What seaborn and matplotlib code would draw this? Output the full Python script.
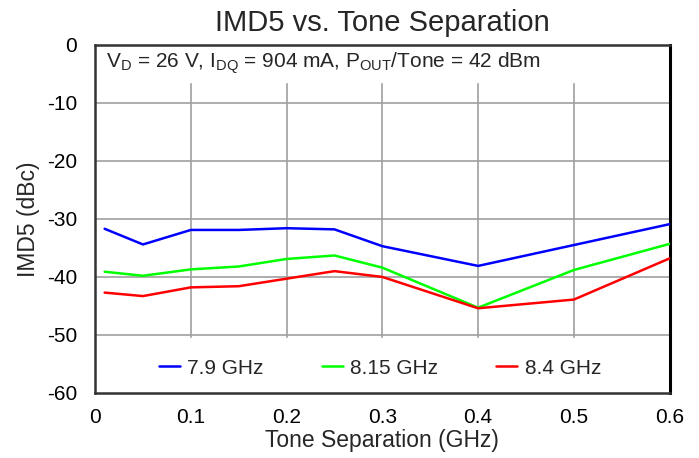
import numpy as np
import pandas as pd
import matplotlib
matplotlib.use("Agg")
import matplotlib.pyplot as plt
import seaborn as sns

# Data
tone_sep = [0.01, 0.05, 0.1, 0.15, 0.2, 0.25, 0.3, 0.4, 0.5, 0.6]
imd5_79 = [-31.7, -34.4, -31.9, -31.9, -31.6, -31.8, -34.7, -38.1, -34.5, -30.9]
imd5_815 = [-39.1, -39.8, -38.7, -38.2, -36.9, -36.3, -38.4, -45.3, -38.8, -34.3]
imd5_84 = [-42.7, -43.3, -41.8, -41.6, -40.3, -39.0, -40.0, -45.4, -43.9, -36.8]
series_names = ["7.9 GHz", "8.15 GHz", "8.4 GHz"]
colors = ["#0000FF", "#00FF00", "#FF0000"]
x_ticks = [0, 0.1, 0.2, 0.3, 0.4, 0.5, 0.6]
x_labels = ["0", "0.1", "0.2", "0.3", "0.4", "0.5", "0.6"]
y_ticks = [0, -10, -20, -30, -40, -50, -60]

df = pd.DataFrame({
    "Tone": tone_sep * 3,
    "IMD5": imd5_79 + imd5_815 + imd5_84,
    "Freq": [series_names[0]] * 10 + [series_names[1]] * 10 + [series_names[2]] * 10,
})

sns.set_style("white")
plt.rcParams['font.family'] = ['Liberation Sans', 'DejaVu Sans']
plt.rcParams['mathtext.fontset'] = 'custom'
plt.rcParams['mathtext.rm'] = 'Liberation Sans'
plt.rcParams['axes.unicode_minus'] = False

fig = plt.figure(figsize=(6.99, 4.58), dpi=100)
ax = fig.add_axes([0.136, 0.142, 0.822, 0.760])

sns.lineplot(data=df, x="Tone", y="IMD5", hue="Freq", palette=colors,
             linewidth=1.8, ax=ax, legend=False, zorder=3)

ax.set_xlim(0, 0.6)
ax.set_ylim(-60, 0)
ax.set_xticks(x_ticks)
ax.set_xticklabels(x_labels)
ax.set_yticks(y_ticks)
ax.grid(True, color="#A0A0A0", linewidth=1.2, zorder=0)
ax.tick_params(axis="y", length=0, labelsize=15, pad=13, colors="black")
ax.tick_params(axis="x", length=0, labelsize=15, pad=11, colors="black")
for s in ax.spines.values():
    s.set_color("#333333")
    s.set_linewidth(1.8)
ax.spines["right"].set_color("black")
ax.spines["right"].set_linewidth(2.2)

ax.set_xlabel("Tone Separation (GHz)", fontsize=16.5, labelpad=1)
ax.set_ylabel("IMD5 (dBc)", fontsize=16.5, labelpad=5)
ax.set_title("IMD5 vs. Tone Separation", fontsize=21, pad=10)

# white band with the test conditions at the top
ax.axhspan(-6.4, 0, color="white", zorder=2)
ax.text(0.011, -3.1, r"$\mathregular{V_D}$ = 26 V, $\mathregular{I_{DQ}}$ = 904 mA, "
        r"$\mathregular{P_{OUT}}$/Tone = 42 dBm",
        fontsize=15, va="center", ha="left", zorder=4)

# legend band at the bottom
ax.axhspan(-60, -50.5, color="white", zorder=2)
handles = [plt.Line2D([], [], color=c, linewidth=1.8) for c in colors]
ax.legend(handles, series_names, loc="center", bbox_to_anchor=(0.496, 0.071),
          ncol=3, frameon=False, fontsize=15, handlelength=1.0,
          handletextpad=0.35, columnspacing=2.8)

fig.savefig("out.png", dpi=100)
